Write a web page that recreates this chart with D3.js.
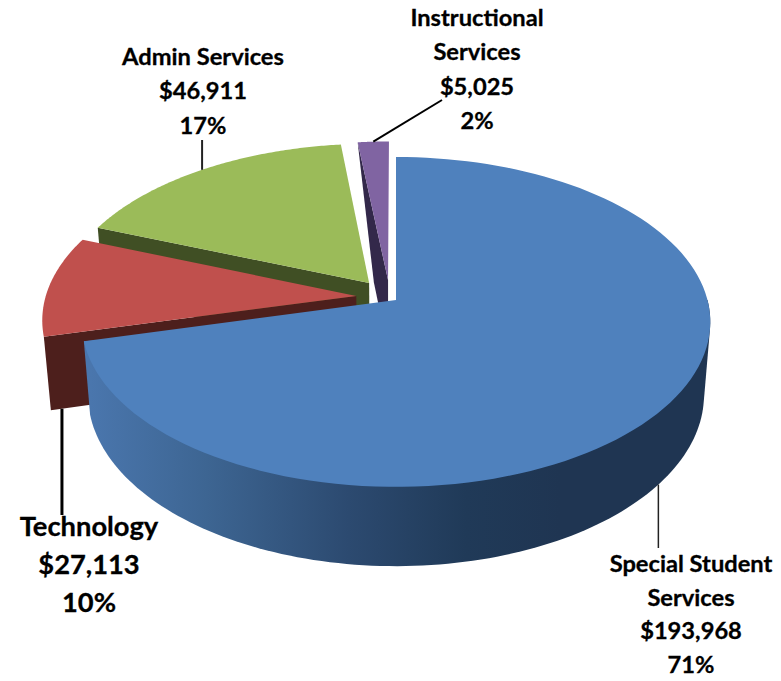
<!DOCTYPE html>
<html><head><meta charset="utf-8">
<script src="https://cdnjs.cloudflare.com/ajax/libs/d3/7.8.5/d3.min.js"></script>
<style>html,body{margin:0;padding:0;background:#fff}svg{display:block}
text{font-family:Lato,"Open Sans",sans-serif;font-weight:700;fill:#000;stroke:#000;stroke-width:0.3px;text-anchor:middle;dominant-baseline:middle}</style>
</head><body><svg id="c" width="781" height="681"></svg>
<script>
const categories = ["Special Student Services","Technology","Admin Services","Instructional Services"];
const amounts = [193968,27113,46911,5025];
const amountLabels = ["$193,968","$27,113","$46,911","$5,025"];
const percentLabels = ["71%","10%","17%","2%"];
const topColors = ["#4f81bd","#c0504d","#9bbb59","#8064a2"];
const faceColors = ["#1f3552","#4d1f1c","#404f24","#33284a"];

const svg = d3.select("#c");
const cx=396, cy=300, R=311.5, S=162, P=0.133, DEPTH=72, SHRINK=0.98;
// exploded offset of each slice on the pie's plane (unit radius)
const explodeU=[0,-0.128,-0.0875,-0.026], explodeV=[0,-0.025,-0.107,-0.125];
const xs=d3.scaleLinear().domain([0,1]).range([0,R]);
const ys=d3.scaleLinear().domain([0,1]).range([0,S]);

function proj(i,r,a,bottom){
  const u=r*Math.sin(a)+explodeU[i], v=-r*Math.cos(a)+explodeV[i], w=1-P*v;
  const X=xs(u)/w, Y=ys(v)/w;
  return bottom ? [cx+X*SHRINK, cy+Y*SHRINK+DEPTH/w] : [cx+X, cy+Y];
}
const arcs=d3.pie().sort(null).value(d=>d)(amounts);
const line=d3.line();
const arcPts=(i,a0,a1,bottom)=>d3.range(0,121).map(k=>proj(i,1,a0+(a1-a0)*k/120,bottom));

const defs=svg.append("defs");
const grad=defs.append("linearGradient").attr("id","wall").attr("gradientUnits","userSpaceOnUse")
  .attr("x1",90).attr("x2",560).attr("y1",0).attr("y2",0);
[[0,"#4a76ad"],[0.25,"#3d6592"],[0.55,"#2c4a70"],[0.8,"#203a58"],[1,"#1f3552"]].forEach(s=>
  grad.append("stop").attr("offset",s[0]).attr("stop-color",s[1]));

// back slices first, blue last
[3,2,1,0].forEach(i=>{
  const d=arcs[i], a0=d.startAngle, a1=d.endAngle;
  const apexT=proj(i,0,0,false), apexB=proj(i,0,0,true);
  if(i===0){
    // outer wall: hull of the rim's top and bottom over the visible front part
    const from=Math.PI/2;
    const hull=d3.polygonHull(arcPts(i,from,a1,false).concat(arcPts(i,from,a1,true)));
    svg.append("path").attr("d",line(hull)+"Z").attr("fill","url(#wall)");
  } else {
    const edge=i===3
      ? [apexT,proj(i,1,a0,false),proj(i,0.45,a0,true),apexB]
      : [apexT,proj(i,1,a0,false),proj(i,1,a0,true),apexB];
    svg.append("path").attr("d",line(edge)+"Z").attr("fill",faceColors[i]);
  }
  svg.append("path").attr("d",line([apexT].concat(arcPts(i,a0,a1,false)))+"Z").attr("fill",topColors[i]);
});

// leader lines
const mid=i=>(arcs[i].startAngle+arcs[i].endAngle)/2;
const leaders=[
 {p:proj(0,1,mid(0),true), e:[0,548], w:1.5, c:"#222"},
 {p:proj(1,0.965,arcs[1].startAngle,true), e:[0,515], w:3, c:"#000"},
 {p:proj(2,1,mid(2),false), e:[0,140], w:2, c:"#222"},
 {p:proj(3,1,mid(3),false), e:[442,100], w:2, c:"#000"}
];
leaders.forEach(l=>{
  svg.append("line").attr("x1",l.p[0]).attr("y1",l.p[1])
    .attr("x2",l.e[0]||l.p[0]).attr("y2",l.e[1]).attr("stroke",l.c).attr("stroke-width",l.w);
});

// labels
const labelSets=[
 {i:0,x:691,y:566,step:33.5,size:23.7,lines:["Special Student","Services"]},
 {i:1,x:89,y:529,step:38,size:27.3,lines:["Technology"]},
 {i:2,x:203,y:59,step:34.3,size:23.7,lines:["Admin Services"]},
 {i:3,x:477,y:20,step:34.3,size:23.7,lines:["Instructional","Services"]}
];
labelSets.forEach(l=>{
  const rows=l.lines.concat([amountLabels[l.i],percentLabels[l.i]]);
  rows.forEach((t,k)=>svg.append("text").attr("x",l.x).attr("y",l.y+k*l.step).attr("font-size",l.size).text(t));
});
</script></body></html>
